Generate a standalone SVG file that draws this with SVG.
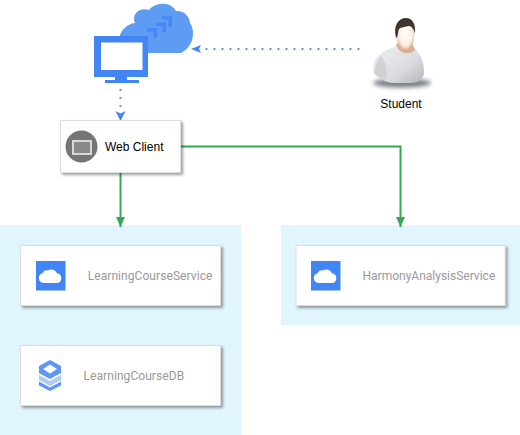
<svg xmlns="http://www.w3.org/2000/svg" width="520" height="435" viewBox="0 0 520 435">
<style>
.zone{fill:#e1f5fe}
.card{fill:#fff;stroke:#ddd;stroke-width:1;filter:url(#sh)}
.svc{font-family:Roboto,"Liberation Sans",sans-serif;font-size:12px;fill:#9a9a9a}
.wide{letter-spacing:.07px}
.lbl{font-family:"Liberation Sans",Arial,sans-serif;font-size:12px;fill:#000}
.tile{fill:#4285f4}
.dot{fill:none;stroke:#5e97f6;stroke-width:2;stroke-dasharray:2 6}
.flow{fill:none;stroke:#34a853;stroke-width:2}
</style>
<defs>
<filter id="sh" x="-10%" y="-10%" width="125%" height="135%"><feDropShadow dx="2" dy="2" stdDeviation="1.4" flood-color="#000" flood-opacity=".38"/></filter>
<filter id="blur" x="-20%" y="-50%" width="140%" height="200%"><feGaussianBlur stdDeviation="2"/></filter>
<filter id="soft" x="-20%" y="-20%" width="140%" height="140%"><feGaussianBlur stdDeviation=".7"/></filter>
<marker id="ag" markerUnits="userSpaceOnUse" markerWidth="12" markerHeight="12" refX="10" refY="4.500" orient="auto"><path d="M0 0L10 4.500L0 9Z" fill="#34a853"/></marker>
<radialGradient id="face" cx=".5" cy=".42" r=".62"><stop offset="0" stop-color="#fff"/><stop offset=".65" stop-color="#fdeee2"/><stop offset="1" stop-color="#d2916d"/></radialGradient>
<linearGradient id="shirt" x1="0" y1="0" x2="1" y2="1"><stop offset="0" stop-color="#eeeff1"/><stop offset=".6" stop-color="#dcdde0"/><stop offset="1" stop-color="#b4b6bb"/></linearGradient>
<path id="wc" d="M-7 8A5 5 0 0 1-8 -1.800A4.500 4.500 0 0 1-2.500 -4.500A6 6 0 0 1 6.500 -1.800A5 5 0 0 1 7 8Z"/>
</defs>
<rect class="zone" x="0" y="225" width="241" height="210"/>
<rect class="zone" x="281" y="225" width="239" height="100"/>
<g id="connectors">
<path class="dot" d="M359.500 49H204"/>
<path class="dot" d="M120.500 89V110"/>
<path d="M120.500 121L115.500 111L120.500 113.500L125.500 111Z" fill="#4285f4"/>
<path d="M191 49L201 45L199 49L201 53Z" fill="#4285f4"/>
<path class="flow" d="M120.500 172V227" marker-end="url(#ag)"/>
<path class="flow" d="M180 146.500H400.500V227" marker-end="url(#ag)"/>
</g>
<g id="client-device">
<path d="M119 40C120 30 127 24 135 23C131 14 140 7 149 10C154 3 170 0 176 11C183 10 190 16 190 23C195 30 195 46 181 53H130C122 53 118 47 119 40Z" fill="#5e9bf3"/>
<path d="M147 28H157V38H153.500V31.500H147ZM156 22.500H166V32.500H162.500V26H156ZM162 16H172V27H168.500V19.500H162Z" fill="#4285f4" opacity=".85"/>
<path d="M94 36H148V77H127V80H139V83H105V80H115V77H94Z" fill="#4285f4"/>
<rect x="101" y="42.500" width="41.500" height="27.500" fill="#fff"/>
</g>
<g id="student">
<ellipse cx="402" cy="83" rx="29" ry="4.500" fill="#5a5f66" opacity=".8" filter="url(#blur)"/>
<path d="M374 74C371 62 377 53 394 47L400 44L411 44L416 50C421 55 424 62 424 72C424 78 420 82 412 83L392 83C386 82 380 79 374 74Z" fill="url(#shirt)" filter="url(#soft)"/>
<path d="M381 56C376 62 374 68 375 74C379 78 383 80 386 80C388 72 386 62 381 56Z" fill="#c9cbcf" opacity=".7"/>
<path d="M396 45C400 55 410 55 415 50L411 40H400Z" fill="#dcae93"/>
<ellipse cx="405.500" cy="36" rx="8.500" ry="15" fill="url(#face)"/>
<path d="M396 38C393 26 398 18 406 18C412 18 416 23 415 34C414 30 412 26 409 26C405 27 401 27 399 29C398 31 398 37 396 38Z" fill="#3e3530"/>
<text class="lbl" x="401" y="108" text-anchor="middle">Student</text>
</g>
<g id="web-client">
<rect class="card" x="60.500" y="120.500" width="120" height="52"/>
<circle cx="81.500" cy="146.500" r="16" fill="#757575"/>
<rect x="73" y="141" width="18" height="13" fill="#8a8a8a" stroke="#d8d8d8" stroke-width="2"/>
<text class="lbl" x="105" y="151">Web Client</text>
</g>
<g id="learning-course-service">
<rect class="card" x="20.500" y="245.500" width="200" height="60"/>
<rect class="tile" x="36" y="261" width="29.500" height="29.500"/>
<use href="#wc" x="50.500" y="275" fill="#fff"/>
<text class="svc wide" x="87.700" y="280">LearningCourseService</text>
</g>
<g id="learning-course-db">
<rect class="card" x="20.500" y="345.500" width="200" height="60"/>
<path d="M50 360L61 366V373L50 379L39 373V366ZM50 364.500L43 369L50 373.500L57 369Z" fill="#5e97f6" fill-rule="evenodd"/>
<path d="M39 375L50 381L61 375V380L50 386L39 380Z" fill="#aecbfa"/>
<path d="M39 381.500L50 387.500L61 381.500V385.500L50 391L39 385.500Z" fill="#5e97f6"/>
<text class="svc wide" x="83.500" y="380">LearningCourseDB</text>
</g>
<g id="harmony-analysis-service">
<rect class="card" x="296" y="245.500" width="209" height="60"/>
<rect class="tile" x="311" y="261" width="29.500" height="29.500"/>
<use href="#wc" x="325.500" y="275" fill="#fff"/>
<text class="svc" x="362.500" y="280">HarmonyAnalysisService</text>
</g>
</svg>
